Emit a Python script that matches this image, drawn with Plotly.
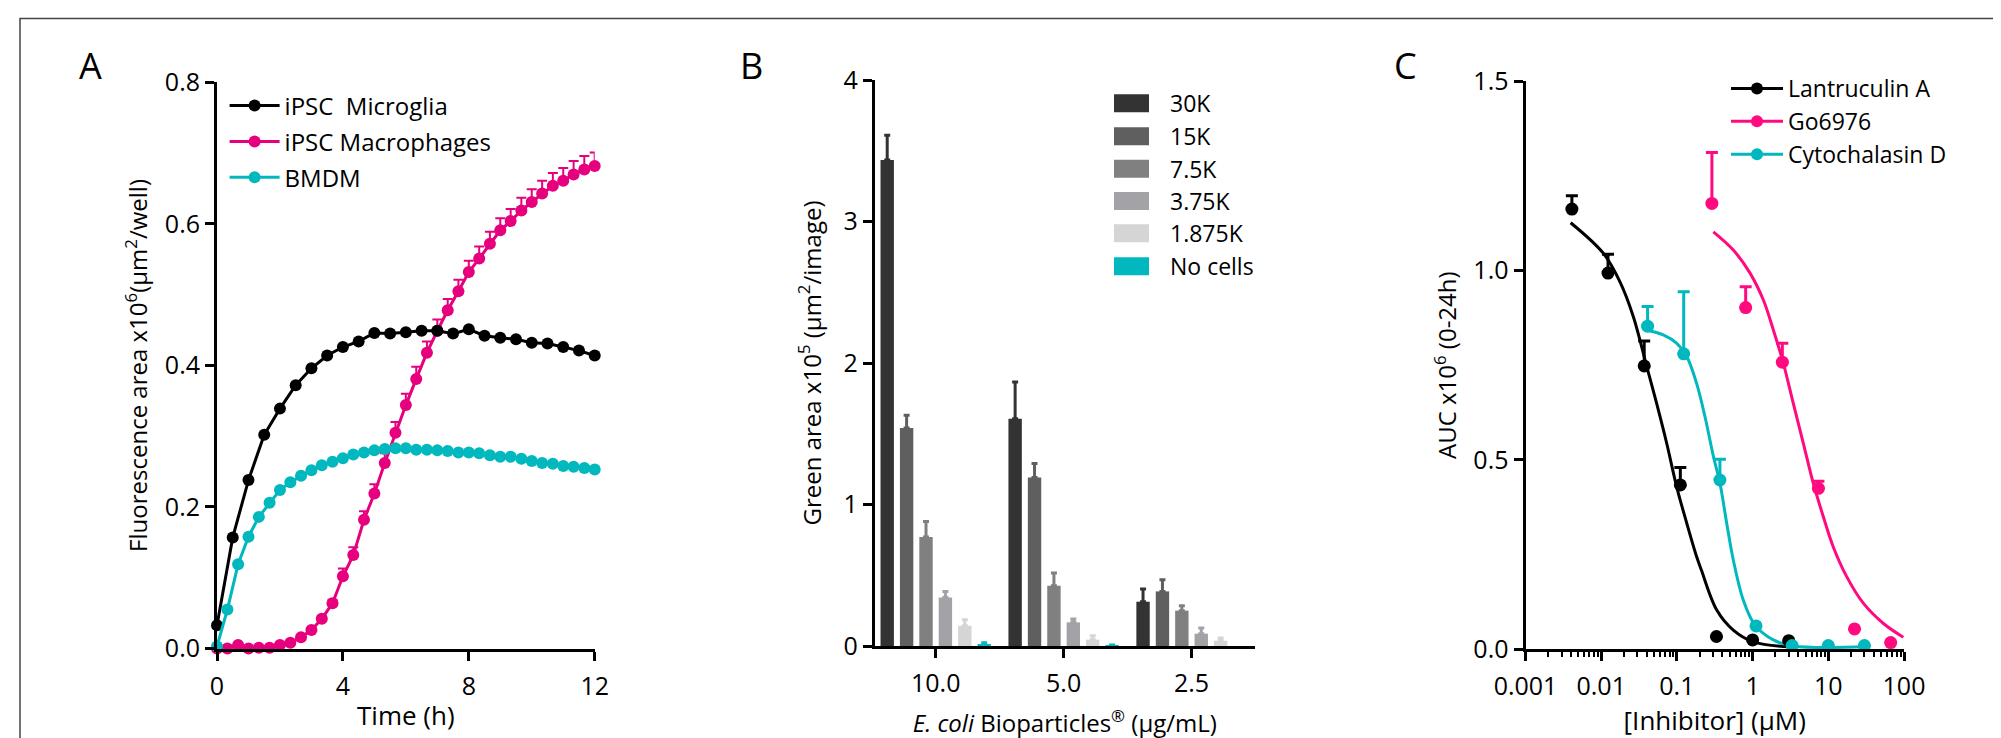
import plotly.graph_objects as go

# ---------------- data: panel A (phagocytosis time course) ----------------
time_half = [0, 0.5, 1, 1.5, 2, 2.5, 3, 3.5, 4, 4.5, 5, 5.5, 6, 6.5, 7, 7.5, 8,
             8.5, 9, 9.5, 10, 10.5, 11, 11.5, 12]
time_third = [0, 0.33, 0.67, 1, 1.33, 1.67, 2, 2.33, 2.67, 3, 3.33, 3.67, 4,
              4.33, 4.67, 5, 5.33, 5.67, 6, 6.33, 6.67, 7, 7.33, 7.67, 8, 8.33,
              8.67, 9, 9.33, 9.67, 10, 10.33, 10.67, 11, 11.33, 11.67, 12]
microglia = [0.033, 0.157, 0.238, 0.302, 0.339, 0.372, 0.396, 0.414, 0.426, 0.434,
             0.446, 0.445, 0.447, 0.449, 0.449, 0.445, 0.451, 0.442, 0.439, 0.437,
             0.432, 0.431, 0.426, 0.421, 0.414]
macrophages = [0.0, 0.0, 0.005, 0.0, 0.001, 0.001, 0.005, 0.008, 0.016, 0.026,
               0.042, 0.064, 0.102, 0.132, 0.182, 0.219, 0.262, 0.305, 0.344,
               0.381, 0.418, 0.449, 0.478, 0.505, 0.532, 0.551, 0.572, 0.591,
               0.604, 0.619, 0.631, 0.643, 0.654, 0.661, 0.670, 0.677, 0.682]
macrophages_err = [0.002, 0.002, 0.002, 0.002, 0.002, 0.002, 0.002, 0.002, 0.003,
                   0.003, 0.004, 0.005, 0.011, 0.011, 0.012, 0.013, 0.014, 0.015,
                   0.016, 0.017, 0.016, 0.016, 0.016, 0.016, 0.016, 0.017, 0.017,
                   0.017, 0.017, 0.018, 0.018, 0.018, 0.018, 0.018, 0.019, 0.019,
                   0.019]
bmdm = [0.003, 0.055, 0.119, 0.158, 0.186, 0.206, 0.224, 0.235, 0.244, 0.252,
        0.259, 0.264, 0.269, 0.274, 0.277, 0.280, 0.282, 0.283, 0.283, 0.281,
        0.281, 0.280, 0.279, 0.277, 0.277, 0.276, 0.273, 0.271, 0.271, 0.268,
        0.265, 0.262, 0.261, 0.258, 0.257, 0.255, 0.253]

# ---------------- data: panel B (bar chart) ----------------
conc_labels = ["10.0", "5.0", "2.5"]
density_names = ["30K", "15K", "7.5K", "3.75K", "1.875K", "No cells"]
density_colors = ["#333333", "#5f5f5f", "#808080", "#a3a3a7", "#d5d5d5", "#00b8be"]
green_30k = [3.435, 1.606, 0.313]
green_15k = [1.54, 1.19, 0.386]
green_7_5k = [0.77, 0.426, 0.25]
green_3_75k = [0.343, 0.167, 0.087]
green_1_875k = [0.143, 0.045, 0.037]
green_nocells = [0.015, 0.002, None]
err_30k = [0.175, 0.26, 0.09]
err_15k = [0.09, 0.10, 0.083]
err_7_5k = [0.11, 0.09, 0.035]
err_3_75k = [0.043, 0.023, 0.04]
err_1_875k = [0.043, 0.028, 0.019]
err_nocells = [0.008, 0.005, None]
green_values = [green_30k, green_15k, green_7_5k, green_3_75k, green_1_875k, green_nocells]
green_errors = [err_30k, err_15k, err_7_5k, err_3_75k, err_1_875k, err_nocells]

# ---------------- data: panel C (inhibitor dose response) ----------------
lat_conc = [0.0041, 0.0123, 0.037, 0.111, 0.333, 1, 3]
lat_auc = [1.162, 0.993, 0.748, 0.434, 0.034, 0.025, 0.023]
lat_err = [0.035, 0.05, 0.066, 0.046, 0, 0, 0]
go_conc = [0.29, 0.81, 2.47, 7.4, 22.2, 66.7]
go_auc = [1.177, 0.902, 0.758, 0.425, 0.054, 0.018]
go_err = [0.134, 0.055, 0.05, 0.019, 0, 0]
cyto_conc = [0.041, 0.123, 0.37, 1.11, 3.33, 10, 30]
cyto_auc = [0.853, 0.78, 0.447, 0.062, 0.01, 0.01, 0.01]
cyto_err = [0.052, 0.164, 0.055, 0, 0, 0, 0]
# fitted curves
lat_fit_x = [0.00395, 0.0107, 0.0177, 0.0266, 0.040, 0.054, 0.0733, 0.0993, 0.135,
             0.182, 0.21, 0.336, 0.556, 1.02, 3.0]
lat_fit_y = [1.126, 1.045, 0.970, 0.878, 0.746, 0.649, 0.544, 0.429, 0.333,
             0.245, 0.21, 0.104, 0.051, 0.02, 0.007]
cyto_fit_x = [0.039, 0.066, 0.099, 0.135, 0.182, 0.235, 0.303, 0.371, 0.455, 0.556,
              0.754, 1.076, 1.88, 3.45, 32]
cyto_fit_y = [0.843, 0.83, 0.808, 0.773, 0.702, 0.614, 0.51, 0.438, 0.333, 0.236,
              0.13, 0.064, 0.025, 0.009, 0.007]
go_fit_x = [0.303, 0.556, 0.925, 1.387, 1.88, 2.55, 3.45, 4.68, 6.34, 8.6, 11.6,
            17.5, 29, 53, 98]
go_fit_y = [1.102, 1.054, 0.993, 0.922, 0.843, 0.755, 0.649, 0.544, 0.438, 0.35,
            0.271, 0.192, 0.122, 0.069, 0.032]

BLACK = "#000000"
PINK = "#e6007e"
PINK_C = "#ff0a7f"
CYAN = "#00b8be"

W, H = 2001, 738
OFF = 8  # page offset of the plot div


def px(x):
    return (x - OFF) / W


def py(y):
    return 1 - (y - OFF) / H


FONT = "Open Sans"
TICK_SIZE = 25
TITLE_SIZE = 24

fig = go.Figure()

# ---- panel A traces (pink drawn first, then black, then cyan) ----
fig.add_trace(go.Scatter(
    x=time_third, y=macrophages, mode="lines+markers", name="iPSC Macrophages",
    line=dict(color=PINK, width=3), marker=dict(color=PINK, size=12),
    error_y=dict(type="data", symmetric=False, array=macrophages_err,
                 arrayminus=[0] * len(macrophages_err), color=PINK, thickness=2, width=5),
    cliponaxis=False, xaxis="x", yaxis="y", legend="legend", legendrank=2, legendgroup="m"))
fig.add_trace(go.Scatter(
    x=time_half, y=microglia, mode="lines+markers", name="iPSC  Microglia",
    line=dict(color=BLACK, width=3), marker=dict(color=BLACK, size=12),
    cliponaxis=False, xaxis="x", yaxis="y", legend="legend", legendrank=1, legendgroup="g"))
fig.add_trace(go.Scatter(
    x=time_third, y=bmdm, mode="lines+markers", name="BMDM",
    line=dict(color=CYAN, width=3), marker=dict(color=CYAN, size=12),
    cliponaxis=False, xaxis="x", yaxis="y", legend="legend", legendrank=3, legendgroup="b"))

# ---- panel B traces ----
for name, color, vals, errs in zip(density_names, density_colors, green_values, green_errors):
    fig.add_trace(go.Bar(
        x=conc_labels, y=vals, name=name, marker=dict(color=color, line=dict(width=0)),
        error_y=dict(type="data", symmetric=False, array=errs,
                     arrayminus=[0] * len(errs), color=color, thickness=3, width=3),
        xaxis="x2", yaxis="y2", showlegend=False))

# ---- panel C traces ----
for fx, fy, color in [(lat_fit_x, lat_fit_y, BLACK), (cyto_fit_x, cyto_fit_y, CYAN),
                      (go_fit_x, go_fit_y, PINK_C)]:
    fig.add_trace(go.Scatter(x=fx, y=fy, mode="lines", line=dict(color=color, width=3, shape="spline"),
                             xaxis="x3", yaxis="y3", showlegend=False, cliponaxis=False))
for cx, cy, ce, color in [(lat_conc, lat_auc, lat_err, BLACK), (go_conc, go_auc, go_err, PINK_C),
                          (cyto_conc, cyto_auc, cyto_err, CYAN)]:
    fig.add_trace(go.Scatter(
        x=cx, y=cy, mode="markers", marker=dict(color=color, size=13),
        error_y=dict(type="data", symmetric=False, array=ce, arrayminus=[0] * len(ce),
                     color=color, thickness=3, width=6),
        xaxis="x3", yaxis="y3", showlegend=False, cliponaxis=False))
for nm, color in [("Lantruculin A", BLACK), ("Go6976", PINK_C), ("Cytochalasin D", CYAN)]:
    fig.add_trace(go.Scatter(x=[None], y=[None], mode="lines+markers", name=nm,
                             line=dict(color=color, width=3), marker=dict(color=color, size=12),
                             xaxis="x3", yaxis="y3", legend="legend3"))

axis_common = dict(showline=True, linewidth=3, linecolor="black", ticks="outside",
                   ticklen=9, tickwidth=3, tickcolor="black", showgrid=False, zeroline=False,
                   automargin=False,
                   tickfont=dict(family=FONT, size=TICK_SIZE, color="black"))

fig.update_layout(
    template="none",
    width=W, height=H, margin=dict(l=0, r=0, t=0, b=0, pad=0, autoexpand=False),
    paper_bgcolor="white", plot_bgcolor="white",
    font=dict(family=FONT, color="black"),
    barmode="group", bargap=0.09, bargroupgap=0.31,
    xaxis=dict(domain=[px(217), px(594.7)], range=[0, 12], tickvals=[0, 4, 8, 12],
               anchor="y", ticklabelstandoff=4,
               title=dict(text="Time (h)", font=dict(size=TITLE_SIZE + 2), standoff=7),
               **axis_common),
    yaxis=dict(domain=[py(648.5), py(82.4)], range=[0, 0.8], tickvals=[0, 0.2, 0.4, 0.6, 0.8],
               tickformat=".1f", anchor="x",
               title=dict(text="Fluorescence area x10<sup>6</sup>(µm<sup>2</sup>/well)",
                          font=dict(size=TITLE_SIZE), standoff=11),
               **axis_common),
    xaxis2=dict(domain=[px(874.7), px(1255)], type="category", range=[-0.477, 2.496],
                anchor="y2", ticklabelstandoff=4,
                title=dict(text="<i>E. coli</i> Bioparticles<sup>®</sup> (µg/mL)",
                           font=dict(size=TITLE_SIZE), standoff=18),
                **axis_common),
    yaxis2=dict(domain=[py(646), py(80)], range=[0, 4], tickvals=[0, 1, 2, 3, 4], anchor="x2",
                title=dict(text="Green area x10<sup>5</sup> (µm<sup>2</sup>/image)",
                           font=dict(size=TITLE_SIZE), standoff=16),
                **axis_common),
    xaxis3=dict(domain=[px(1525.5), px(1904)], type="log", range=[-3, 2],
                tickvals=[0.001, 0.01, 0.1, 1, 10, 100],
                ticktext=["0.001", "0.01", "0.1", "1", "10", "100"], anchor="y3",
                ticklabelstandoff=4,
                minor=dict(ticks="outside", ticklen=5, tickwidth=2, tickcolor="black",
                           dtick="D1", showgrid=False),
                title=dict(text="[Inhibitor] (µM)", font=dict(size=TITLE_SIZE + 2), standoff=7),
                **axis_common),
    yaxis3=dict(domain=[py(649.4), py(81)], range=[0, 1.5], tickvals=[0, 0.5, 1.0, 1.5],
                tickformat=".1f", anchor="x3",
                title=dict(text="AUC x10<sup>6</sup> (0-24h)", font=dict(size=TITLE_SIZE),
                           standoff=10),
                **axis_common),
    legend=dict(x=px(224.6), y=py(83.5), xanchor="left", yanchor="top", bgcolor="rgba(0,0,0,0)",
                font=dict(family=FONT, size=24, color="black"), tracegroupgap=1.6,
                itemwidth=50),
    legend3=dict(x=px(1726), y=py(67), xanchor="left", yanchor="top", bgcolor="rgba(0,0,0,0)",
                 font=dict(family=FONT, size=23, color="black"), itemwidth=52),
)

# ---- panel B legend (drawn boxes) ----
legend_b_rows = [103.3, 136.3, 168.7, 201, 233.3, 266.3]
for name, color, yc in zip(density_names, density_colors, legend_b_rows):
    fig.add_shape(type="rect", xref="paper", yref="paper", x0=px(1114), x1=px(1149),
                  y0=py(yc + 9), y1=py(yc - 9), fillcolor=color, line=dict(width=0))
    fig.add_annotation(x=px(1168), y=py(yc), xref="paper", yref="paper", text=name,
                       showarrow=False, xanchor="left", yanchor="middle",
                       font=dict(family=FONT, size=23, color="black"))

# ---- panel letters ----
for letter, xc in [("A", 90), ("B", 751), ("C", 1405)]:
    fig.add_annotation(x=px(xc), y=py(66), xref="paper", yref="paper", text=letter,
                       showarrow=False, xanchor="center", yanchor="middle",
                       font=dict(family=FONT, size=36, color="black"))

# ---- frame ----
fig.add_shape(type="rect", xref="paper", yref="paper", x0=px(20), x1=1.05, y0=-0.05, y1=py(18.5),
              line=dict(color="#444444", width=1.5), fillcolor="rgba(0,0,0,0)", layer="below")

fig.write_html("out.html")
